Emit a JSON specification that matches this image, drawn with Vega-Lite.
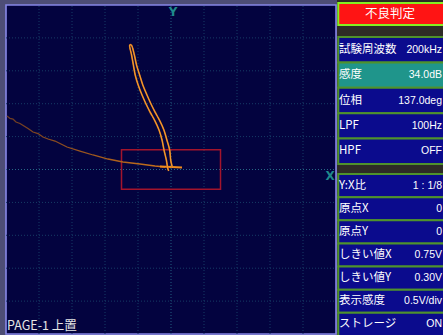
{
  "$schema": "https://vega.github.io/schema/vega-lite/v6.json",
  "padding": 0,
  "spacing": 0,
  "background": "#2e2c26",
  "config": {
    "view": {"stroke": null},
    "axis": {"disable": true},
    "legend": {"disable": true},
    "font": "Noto Sans CJK JP"
  },
  "datasets": {
    "grid": [{"div": -4}, {"div": -3}, {"div": -2}, {"div": -1}, {"div": 0}, {"div": 1}, {"div": 2}, {"div": 3}, {"div": 4}],
    "threshold": [{"xmin": -1.5, "xmax": 1.5, "ymin": -0.6, "ymax": 0.6}],
    "tail": [
      {"i": 1, "x": -4.970, "y": 1.626},
      {"i": 2, "x": -4.879, "y": 1.550},
      {"i": 3, "x": -4.788, "y": 1.535},
      {"i": 4, "x": -4.697, "y": 1.444},
      {"i": 5, "x": -4.576, "y": 1.398},
      {"i": 6, "x": -4.455, "y": 1.322},
      {"i": 7, "x": -4.333, "y": 1.246},
      {"i": 8, "x": -4.182, "y": 1.140},
      {"i": 9, "x": -4.030, "y": 1.094},
      {"i": 10, "x": -3.879, "y": 0.988},
      {"i": 11, "x": -3.727, "y": 0.927},
      {"i": 12, "x": -3.515, "y": 0.866},
      {"i": 13, "x": -3.152, "y": 0.684},
      {"i": 14, "x": -2.758, "y": 0.562},
      {"i": 15, "x": -2.364, "y": 0.441},
      {"i": 16, "x": -1.909, "y": 0.319},
      {"i": 17, "x": -1.455, "y": 0.228},
      {"i": 18, "x": -0.939, "y": 0.167},
      {"i": 19, "x": -0.485, "y": 0.106},
      {"i": 20, "x": -0.182, "y": 0.076}
    ],
    "base": [
      {"i": 1, "x": -0.333, "y": 0.091},
      {"i": 2, "x": 0.030, "y": 0.076},
      {"i": 3, "x": 0.333, "y": 0.061}
    ],
    "loop": [
      {"i": 1, "x": 0.045, "y": 0.046},
      {"i": 2, "x": -0.010, "y": 0.289},
      {"i": 3, "x": -0.040, "y": 0.593},
      {"i": 4, "x": -0.125, "y": 0.897},
      {"i": 5, "x": -0.215, "y": 1.201},
      {"i": 6, "x": -0.335, "y": 1.474},
      {"i": 7, "x": -0.485, "y": 1.748},
      {"i": 8, "x": -0.606, "y": 1.991},
      {"i": 9, "x": -0.728, "y": 2.264},
      {"i": 10, "x": -0.855, "y": 2.568},
      {"i": 11, "x": -0.950, "y": 2.872},
      {"i": 12, "x": -1.045, "y": 3.176},
      {"i": 13, "x": -1.110, "y": 3.480},
      {"i": 14, "x": -1.205, "y": 3.784},
      {"i": 15, "x": -1.250, "y": 3.784},
      {"i": 16, "x": -1.195, "y": 3.480},
      {"i": 17, "x": -1.140, "y": 3.176},
      {"i": 18, "x": -1.085, "y": 2.872},
      {"i": 19, "x": -0.995, "y": 2.568},
      {"i": 20, "x": -0.878, "y": 2.264},
      {"i": 21, "x": -0.757, "y": 1.991},
      {"i": 22, "x": -0.636, "y": 1.748},
      {"i": 23, "x": -0.485, "y": 1.474},
      {"i": 24, "x": -0.363, "y": 1.201},
      {"i": 25, "x": -0.272, "y": 0.897},
      {"i": 26, "x": -0.212, "y": 0.593},
      {"i": 27, "x": -0.141, "y": 0.289},
      {"i": 28, "x": -0.101, "y": 0.046},
      {"i": 29, "x": -0.070, "y": -0.046}
    ],
    "status": [{"label": "不良判定", "state": "fail"}],
    "menu1": [
      {"item": "試験周波数", "value": "200kHz", "selected": false},
      {"item": "感度", "value": "34.0dB", "selected": true},
      {"item": "位相", "value": "137.0deg", "selected": false},
      {"item": "LPF", "value": "100Hz", "selected": false},
      {"item": "HPF", "value": "OFF", "selected": false}
    ],
    "menu2": [
      {"item": "Y:X比", "value": "1 : 1/8", "selected": false},
      {"item": "原点X", "value": "0", "selected": false},
      {"item": "原点Y", "value": "0", "selected": false},
      {"item": "しきい値X", "value": "0.75V", "selected": false},
      {"item": "しきい値Y", "value": "0.30V", "selected": false},
      {"item": "表示感度", "value": "0.5V/div", "selected": false},
      {"item": "ストレージ", "value": "ON", "selected": false}
    ]
  },
  "hconcat": [
    {
      "width": 337,
      "height": 335,
      "view": {"fill": "#4d4d76", "stroke": null},
      "layer": [
        {
          "data": {"values": [{"area": "plot"}]},
          "mark": {"type": "rect", "fill": "#03033f", "stroke": "#8787e8", "strokeWidth": 1.6},
          "encoding": {
            "x": {"datum": -5, "type": "quantitative", "scale": {"domain": [-5.182, 5.03], "nice": false, "zero": false}},
            "x2": {"datum": 5},
            "y": {"datum": -5, "type": "quantitative", "scale": {"domain": [-5.03, 5.152], "nice": false, "zero": false}},
            "y2": {"datum": 5}
          }
        },
        {
          "data": {"name": "grid"},
          "mark": {"type": "rule", "strokeDash": [1, 2], "strokeWidth": 1},
          "encoding": {
            "x": {"field": "div", "type": "quantitative"},
            "y": {"datum": -5},
            "y2": {"datum": 5},
            "stroke": {"condition": {"test": "datum.div === 0", "value": "#245f80"}, "value": "#173c66"}
          }
        },
        {
          "data": {"name": "grid"},
          "mark": {"type": "rule", "strokeDash": [1, 2], "strokeWidth": 1},
          "encoding": {
            "y": {"field": "div", "type": "quantitative"},
            "x": {"datum": -5},
            "x2": {"datum": 5},
            "stroke": {"condition": {"test": "datum.div === 0", "value": "#276886"}, "value": "#173c66"}
          }
        },
        {
          "data": {"name": "threshold"},
          "mark": {"type": "rect", "fillOpacity": 0, "stroke": "#a3142c", "strokeWidth": 1.5},
          "encoding": {
            "x": {"field": "xmin", "type": "quantitative"},
            "x2": {"field": "xmax"},
            "y": {"field": "ymin", "type": "quantitative"},
            "y2": {"field": "ymax"}
          }
        },
        {
          "data": {"name": "tail"},
          "mark": {
            "type": "line",
            "strokeWidth": 1.3,
            "stroke": {"gradient": "linear", "x1": 0, "x2": 1, "y1": 0, "y2": 0, "stops": [
              {"offset": 0, "color": "#6e3c22"},
              {"offset": 0.35, "color": "#8f4e1e"},
              {"offset": 1, "color": "#c9721a"}
            ]}
          },
          "encoding": {
            "x": {"field": "x", "type": "quantitative"},
            "y": {"field": "y", "type": "quantitative"},
            "order": {"field": "i"}
          }
        },
        {
          "data": {"name": "base"},
          "mark": {"type": "line", "stroke": "#f08c1c", "strokeWidth": 1.8},
          "encoding": {
            "x": {"field": "x", "type": "quantitative"},
            "y": {"field": "y", "type": "quantitative"},
            "order": {"field": "i"}
          }
        },
        {
          "data": {"name": "loop"},
          "mark": {"type": "line", "stroke": "#c8681a", "strokeWidth": 1.7, "interpolate": "catmull-rom"},
          "encoding": {
            "x": {"field": "x", "type": "quantitative"},
            "y": {"field": "y", "type": "quantitative"},
            "order": {"field": "i"}
          }
        },
        {
          "data": {"name": "loop"},
          "mark": {"type": "line", "stroke": "#ffae3a", "strokeWidth": 0.8, "interpolate": "catmull-rom"},
          "encoding": {
            "x": {"field": "x", "type": "quantitative"},
            "y": {"field": "y", "type": "quantitative"},
            "order": {"field": "i"}
          }
        },
        {
          "data": {"values": [{"t": "Y"}]},
          "mark": {"type": "text", "color": "#1f8a8c", "fontSize": 12, "font": "DejaVu Sans", "fontWeight": "bold", "align": "center", "baseline": "middle"},
          "encoding": {"x": {"datum": 0.06}, "y": {"datum": 4.79}, "text": {"field": "t"}}
        },
        {
          "data": {"values": [{"t": "X"}]},
          "mark": {"type": "text", "color": "#1f8a8c", "fontSize": 12, "font": "DejaVu Sans", "fontWeight": "bold", "align": "center", "baseline": "middle"},
          "encoding": {"x": {"datum": 4.82}, "y": {"datum": -0.2}, "text": {"field": "t"}}
        },
        {
          "data": {"values": [{"page": "PAGE-1 上置"}]},
          "mark": {"type": "text", "color": "#e4e4e4", "fontSize": 12.5, "align": "left", "baseline": "bottom", "dx": 1, "dy": -1},
          "encoding": {"x": {"datum": -5}, "y": {"datum": -5}, "text": {"field": "page"}}
        }
      ]
    },
    {
      "width": 106,
      "height": 335,
      "layer": [
        {
          "data": {"name": "status"},
          "encoding": {
            "y": {"field": "label", "type": "nominal", "sort": null, "scale": {"type": "band", "range": [3, 25], "paddingInner": 0, "paddingOuter": 0}}
          },
          "layer": [
            {
              "mark": {"type": "rect", "fill": "#ff1414", "stroke": "#86ee22", "strokeWidth": 2, "clip": true},
              "encoding": {
                "x": {"datum": 0.012, "type": "quantitative", "scale": {"domain": [0, 1], "nice": false, "zero": false}},
                "x2": {"datum": 1.05}
              }
            },
            {
              "mark": {"type": "text", "color": "#ffffff", "fontSize": 12.5, "align": "center", "baseline": "middle", "clip": true},
              "encoding": {"x": {"datum": 0.5, "type": "quantitative"}, "text": {"field": "label"}}
            }
          ]
        },
        {
          "data": {"name": "menu1"},
          "encoding": {
            "y": {"field": "item", "type": "nominal", "sort": null, "scale": {"type": "band", "range": [37, 164], "paddingInner": 0, "paddingOuter": 0}}
          },
          "layer": [
            {
              "mark": {"type": "rect", "stroke": "#4f922c", "strokeWidth": 2, "clip": true},
              "encoding": {
                "x": {"datum": 0.012, "type": "quantitative"},
                "x2": {"datum": 1.05},
                "fill": {"condition": {"test": "datum.selected", "value": "#1f958b"}, "value": "#0b0b8d"}
              }
            },
            {
              "mark": {"type": "text", "color": "#ffffff", "fontSize": 11.5, "align": "left", "baseline": "middle", "dx": 2, "clip": true},
              "encoding": {"x": {"datum": 0, "type": "quantitative"}, "text": {"field": "item"}}
            },
            {
              "mark": {"type": "text", "color": "#ffffff", "fontSize": 10.5, "font": "Liberation Sans", "align": "right", "baseline": "middle", "dx": -1, "clip": true},
              "encoding": {"x": {"datum": 1, "type": "quantitative"}, "text": {"field": "value"}}
            }
          ]
        },
        {
          "data": {"name": "menu2"},
          "encoding": {
            "y": {"field": "item", "type": "nominal", "sort": null, "scale": {"type": "band", "range": [174, 336], "paddingInner": 0, "paddingOuter": 0}}
          },
          "layer": [
            {
              "mark": {"type": "rect", "stroke": "#4f922c", "strokeWidth": 2, "clip": true},
              "encoding": {
                "x": {"datum": 0.012, "type": "quantitative"},
                "x2": {"datum": 1.05},
                "fill": {"condition": {"test": "datum.selected", "value": "#1f958b"}, "value": "#0b0b8d"}
              }
            },
            {
              "mark": {"type": "text", "color": "#ffffff", "fontSize": 11.5, "align": "left", "baseline": "middle", "dx": 2, "clip": true},
              "encoding": {"x": {"datum": 0, "type": "quantitative"}, "text": {"field": "item"}}
            },
            {
              "mark": {"type": "text", "color": "#ffffff", "fontSize": 10.5, "font": "Liberation Sans", "align": "right", "baseline": "middle", "dx": -1, "clip": true},
              "encoding": {"x": {"datum": 1, "type": "quantitative"}, "text": {"field": "value"}}
            }
          ]
        }
      ],
      "resolve": {"scale": {"y": "independent"}}
    }
  ]
}
